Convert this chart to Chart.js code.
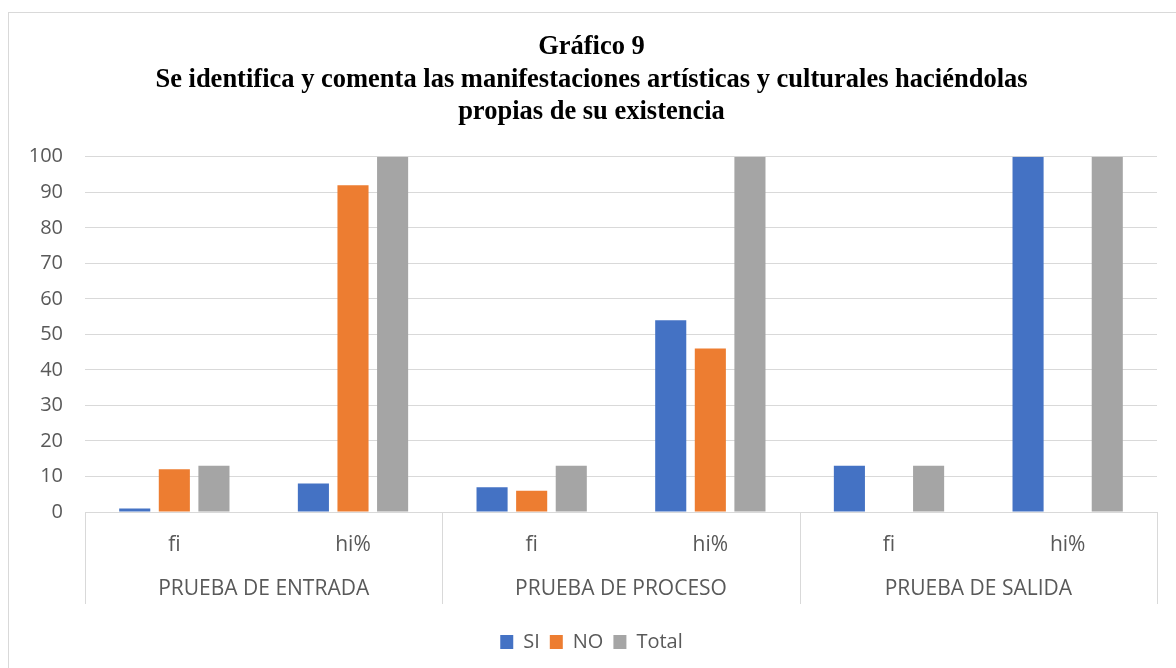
<!DOCTYPE html>
<html>
<head>
<meta charset="utf-8">
<script src="https://cdn.jsdelivr.net/npm/chart.js@4.4.1/dist/chart.umd.min.js"></script>
<style>
  html, body { margin: 0; padding: 0; background: #fff; overflow: hidden; }
  #frame { position: absolute; left: 8px; top: 12px; width: 1200px; height: 700px; border: 1px solid #d9d9d9; box-sizing: border-box; }
  #wrap { position: absolute; left: 0; top: 0; width: 1176px; height: 668px; }
</style>
</head>
<body>
<div id="frame"></div>
<div id="wrap"><canvas id="c" width="1176" height="668"></canvas></div>
<script>
// ---- data ----
const subCategories = ["fi", "hi%", "fi", "hi%", "fi", "hi%"];
const groups = ["PRUEBA DE ENTRADA", "PRUEBA DE PROCESO", "PRUEBA DE SALIDA"];
const siValues = [1, 8, 7, 54, 13, 100];
const noValues = [12, 92, 6, 46, 0, 0];
const totalValues = [13, 100, 13, 100, 13, 100];
const titleLines = ["Gráfico 9", "Se identifica y comenta las manifestaciones artísticas y culturales haciéndolas", "propias de su existencia"];

const GRID = "#d9d9d9";
const TXT = "#595959";
const SANS = "'Open Sans', 'Noto Sans', sans-serif";

const separators = {
  id: "separators",
  afterDraw(chart) {
    const x = chart.scales.x;
    const x2 = chart.scales.x2;
    const ca = chart.chartArea;
    const ctx = chart.ctx;
    const xs = [ca.left];
    for (let i = 1; i < subCategories.length; i += 2) {
      if (i + 1 < subCategories.length) {
        xs.push((x.getPixelForValue(i) + x.getPixelForValue(i + 1)) / 2);
      }
    }
    xs.push(ca.right);
    ctx.save();
    ctx.strokeStyle = GRID;
    ctx.lineWidth = 1;
    xs.forEach(px => {
      const p = Math.round(px) + 0.5;
      ctx.beginPath();
      ctx.moveTo(p, ca.bottom);
      ctx.lineTo(p, x2.top + 38);
      ctx.stroke();
    });
    ctx.restore();
  }
};

new Chart(document.getElementById("c"), {
  type: "bar",
  data: {
    labels: subCategories,
    datasets: [
      { label: "SI", data: siValues, backgroundColor: "#4472C4" },
      { label: "NO", data: noValues, backgroundColor: "#ED7D31" },
      { label: "Total", data: totalValues, backgroundColor: "#A5A5A5" }
    ]
  },
  options: {
    responsive: false,
    animation: false,
    events: [],
    categoryPercentage: 0.665,
    barPercentage: 0.785,
    layout: { padding: { left: 26, right: 19, top: 0, bottom: 6 } },
    plugins: {
      title: {
        display: true,
        text: titleLines,
        color: "#000",
        font: { family: "'Liberation Serif', 'Times New Roman', serif", size: 26.5, weight: "bold", lineHeight: 1.23 },
        padding: { top: 31, bottom: 28 }
      },
      legend: {
        position: "bottom",
        labels: {
          boxWidth: 13,
          boxHeight: 14,
          padding: 10,
          color: TXT,
          font: { family: SANS, size: 20 }
        }
      },
      tooltip: { enabled: false }
    },
    scales: {
      y: {
        min: 0,
        max: 100,
        ticks: { stepSize: 10, color: TXT, padding: 22, font: { family: SANS, size: 20 } },
        grid: { color: GRID, drawTicks: false, lineWidth: 1 },
        border: { display: false },
        afterFit(s) { s.width = 59; }
      },
      x: {
        grid: { display: false, drawTicks: false },
        border: { display: true, color: GRID },
        ticks: { color: TXT, padding: 20, font: { family: SANS, size: 21 }, maxRotation: 0 },
        afterFit(s) { s.height = 54; }
      },
      x2: {
        type: "category",
        labels: groups,
        position: "bottom",
        offset: true,
        grid: { display: false, drawTicks: false },
        border: { display: false },
        ticks: { color: TXT, padding: 10, font: { family: SANS, size: 21 }, maxRotation: 0 },
        afterFit(s) { s.height = 56; }
      }
    }
  },
  plugins: [separators]
});
</script>
</body>
</html>
